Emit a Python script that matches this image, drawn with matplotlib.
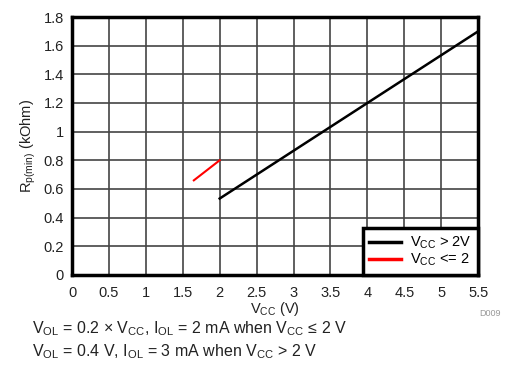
import numpy as np
import matplotlib
matplotlib.use('Agg')
import matplotlib.pyplot as plt

plt.rcParams['font.family'] = ['Liberation Sans', 'DejaVu Sans']
plt.rcParams['mathtext.fontset'] = 'custom'
plt.rcParams['mathtext.rm'] = 'Liberation Sans'
plt.rcParams['mathtext.it'] = 'Liberation Sans'

# data: Rp(min) vs Vcc
vcc_hi = [2.0, 5.5]
rp_hi = [0.533, 1.7]
vcc_lo = [1.65, 2.0]
rp_lo = [0.66, 0.8]

xticks = np.arange(0, 5.51, 0.5)
xticklabels = ['0', '0.5', '1', '1.5', '2', '2.5', '3', '3.5', '4', '4.5', '5', '5.5']
yticks = np.arange(0, 1.81, 0.2)
yticklabels = ['0', '0.2', '0.4', '0.6', '0.8', '1', '1.2', '1.4', '1.6', '1.8']

fig = plt.figure(figsize=(5.18, 3.70), dpi=100)
ax = fig.add_axes([0.139, 0.257, 0.784, 0.697])

ax.plot(vcc_hi, rp_hi, color='black', lw=1.8, label=r'$\mathregular{V_{CC}}$ > 2V')
ax.plot(vcc_lo, rp_lo, color='#ff0000', lw=1.5, label=r'$\mathregular{V_{CC}}$ <= 2')

ax.set_xlim(0, 5.5)
ax.set_ylim(0, 1.8)
ax.set_xticks(xticks)
ax.set_xticklabels(xticklabels)
ax.set_yticks(yticks)
ax.set_yticklabels(yticklabels)
ax.tick_params(length=0, labelsize=10.5, pad=6, colors='#222222')
ax.tick_params(axis='x', pad=8)
ax.grid(True, color='#444444', lw=1.2)
ax.set_axisbelow(True)
for s in ax.spines.values():
    s.set_linewidth(2.5)
    s.set_color('black')

ax.set_xlabel(r'$\mathregular{V_{CC}}$ (V)', fontsize=10.5, labelpad=0, color='#222222')
ax.set_ylabel(r'$\mathregular{R_{p(min)}}$ (kOhm)', fontsize=10.5, labelpad=4, color='#222222')

leg = ax.legend(loc='lower right', fontsize=10.5, fancybox=False, framealpha=1,
                borderaxespad=0, handlelength=2.2, handletextpad=0.6,
                borderpad=0.45, labelspacing=0.05)
leg.get_frame().set_edgecolor('black')
leg.get_frame().set_linewidth(2.5)
for h in leg.get_lines():
    h.set_linewidth(2.5)

fig.text(0.946, 0.146, 'D009', fontsize=6.5, color='#999999', ha='center')
fig.text(0.062, 0.098, r'$\mathregular{V_{OL}}$ = 0.2 × $\mathregular{V_{CC}}$, $\mathregular{I_{OL}}$ = 2 mA when $\mathregular{V_{CC}}$ ≤ 2 V',
         fontsize=11.5, color='#222222')
fig.text(0.062, 0.038, r'$\mathregular{V_{OL}}$ = 0.4 V, $\mathregular{I_{OL}}$ = 3 mA when $\mathregular{V_{CC}}$ > 2 V',
         fontsize=11.5, color='#222222')

fig.savefig('out.png', dpi=100)
